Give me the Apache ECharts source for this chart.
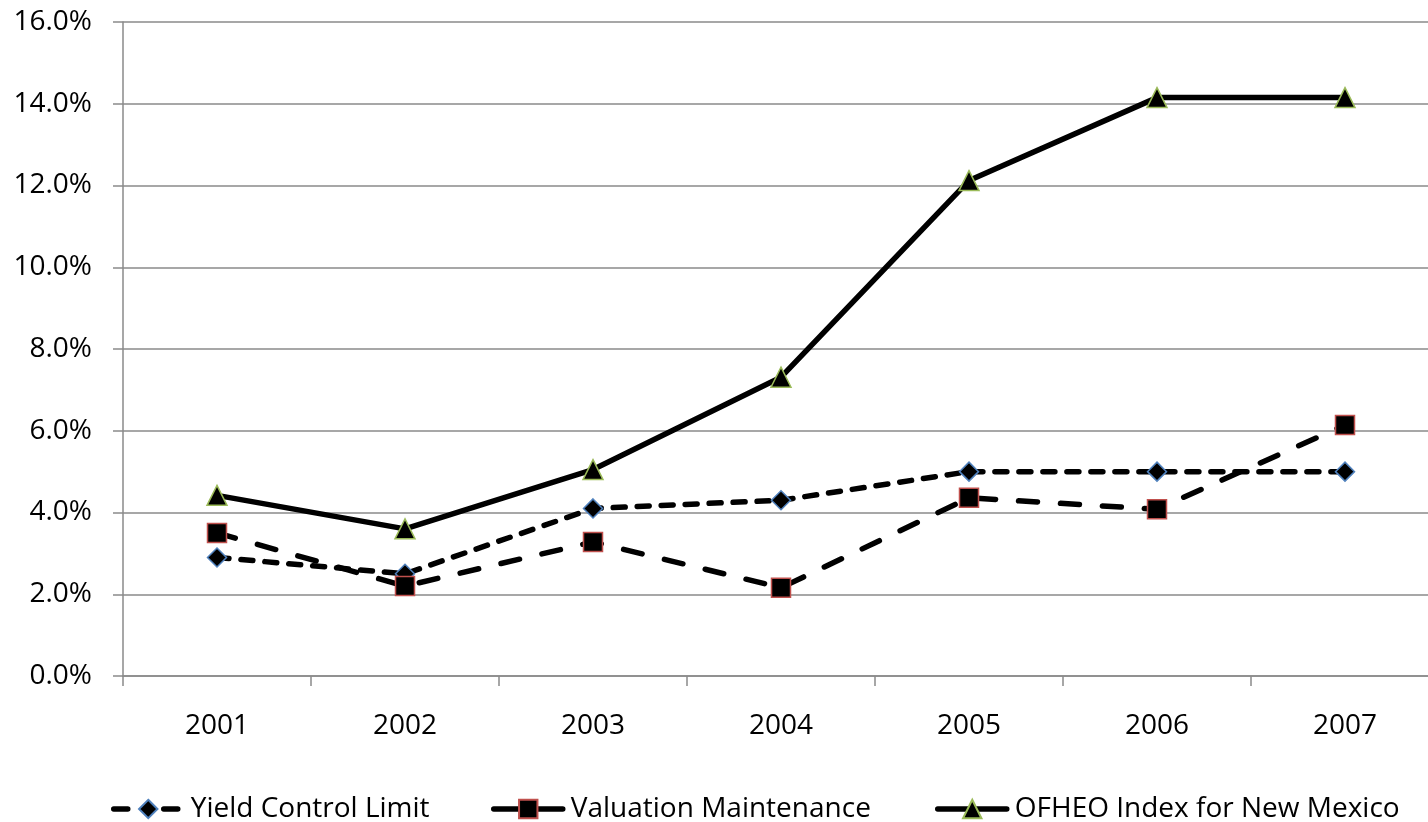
<!DOCTYPE html>
<html>
<head>
<meta charset="utf-8">
<script src="https://cdn.jsdelivr.net/npm/echarts@6/dist/echarts.min.js"></script>
<style>
  html, body { margin: 0; padding: 0; background: #ffffff; }
  #chart { width: 1428px; height: 822px; }
</style>
</head>
<body>
<div id="chart"></div>
<script>
// Years on the category axis
const years = ['2001', '2002', '2003', '2004', '2005', '2006', '2007'];

// Annual rates, in percent
const yieldControlLimit = [2.9, 2.5, 4.1, 4.3, 5.0, 5.0, 5.0];
const valuationMaintenance = [3.5, 2.2, 3.28, 2.16, 4.36, 4.08, 6.14];
const ofheoNewMexico = [4.42, 3.6, 5.05, 7.31, 12.12, 14.15, 14.15];

// Series names shown in the legend
const seriesNames = ['Yield Control Limit', 'Valuation Maintenance', 'OFHEO Index for New Mexico'];

const FONT = '"Open Sans", sans-serif';
const AXIS_GRAY = '#8a8a8a';
const LINE_WIDTH = 5.5;

const chart = echarts.init(document.getElementById('chart'), null, { renderer: 'canvas' });

// One legend block per series so each entry sits in its own slot
function legendAt(name, left, dash) {
  return {
    data: [name],
    left: left,
    top: 790,
    itemWidth: 69,
    itemHeight: 23,
    itemGap: 0,
    lineStyle: { width: LINE_WIDTH, cap: 'round', type: dash },
    textStyle: { fontFamily: FONT, fontSize: 28, color: '#000', padding: [0, 0, 0, 3] }
  };
}

chart.setOption({
  backgroundColor: '#ffffff',
  animation: false,
  grid: {
    left: 123,
    top: 22,
    width: 1316,
    height: 654,
    outerBoundsMode: 'none'
  },
  legend: [
    legendAt(seriesNames[0], 106, [14, 36]),
    legendAt(seriesNames[1], 486, 'solid'),
    legendAt(seriesNames[2], 930, 'solid')
  ],
  xAxis: {
    type: 'category',
    data: years,
    boundaryGap: true,
    axisLine: { show: true, lineStyle: { color: AXIS_GRAY, width: 1.5 } },
    axisTick: { show: true, length: 10, lineStyle: { color: AXIS_GRAY, width: 1.5 } },
    axisLabel: { margin: 36, fontFamily: FONT, fontSize: 28, color: '#000' },
    splitLine: { show: false }
  },
  yAxis: {
    type: 'value',
    min: 0,
    max: 16,
    interval: 2,
    axisLine: { show: true, lineStyle: { color: AXIS_GRAY, width: 1.5 } },
    axisTick: { show: true, length: 10, lineStyle: { color: AXIS_GRAY, width: 1.5 } },
    axisLabel: {
      margin: 31,
      fontFamily: FONT,
      fontSize: 28,
      color: '#000',
      formatter: v => v.toFixed(1) + '%'
    },
    splitLine: { show: true, lineStyle: { color: AXIS_GRAY, width: 1.5 } }
  },
  series: [
    {
      name: seriesNames[0],
      type: 'line',
      data: yieldControlLimit,
      symbol: 'diamond',
      symbolSize: 19,
      z: 3,
      lineStyle: { color: '#000', width: LINE_WIDTH, type: [12, 12], cap: 'round' },
      itemStyle: { color: '#000', borderColor: '#4f81bd', borderWidth: 1.5 }
    },
    {
      name: seriesNames[1],
      type: 'line',
      data: valuationMaintenance,
      symbol: 'rect',
      symbolSize: 19,
      z: 4,
      lineStyle: { color: '#000', width: LINE_WIDTH, type: [19, 23], cap: 'round' },
      itemStyle: { color: '#000', borderColor: '#c0504d', borderWidth: 1.5 }
    },
    {
      name: seriesNames[2],
      type: 'line',
      data: ofheoNewMexico,
      symbol: 'triangle',
      symbolSize: 20,
      z: 5,
      lineStyle: { color: '#000', width: LINE_WIDTH },
      itemStyle: { color: '#000', borderColor: '#9bbb59', borderWidth: 1.5 }
    }
  ]
});
</script>
</body>
</html>
